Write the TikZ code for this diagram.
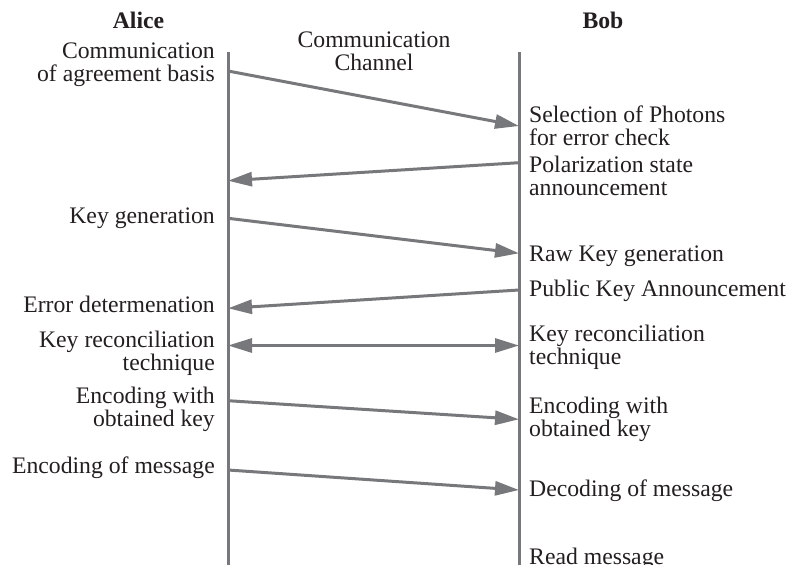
\documentclass[tikz,border=0pt]{standalone}
\usepackage{fontspec}
\setmainfont{Liberation Serif}
\usetikzlibrary{arrows.meta}
\definecolor{linegray}{HTML}{77787B}
\definecolor{textcol}{HTML}{231F20}
\begin{document}
\begin{tikzpicture}[x=1pt,y=-1pt,
  lbl/.style={inner sep=0pt, text=textcol, font=\fontsize{23.7}{23}\selectfont},
  lleft/.style={lbl, anchor=base east, align=right},
  lright/.style={lbl, anchor=base west, align=left},
  head/.style={lbl, anchor=base, align=center},
  life/.style={draw=linegray, line width=3pt},
  msg/.style={draw=linegray, line width=3pt, -{Triangle[length=24pt,width=14pt]}},
  msgboth/.style={draw=linegray, line width=3pt, {Triangle[length=24pt,width=14pt]}-{Triangle[length=24pt,width=14pt]}}]
\useasboundingbox (0,0) rectangle (790,565);
\clip (0,0) rectangle (790,565);
% lifelines
\coordinate (alicetop) at (228,52);
\coordinate (alicebot) at (228,575);
\coordinate (bobtop) at (519,52);
\coordinate (bobbot) at (519,575);
\draw[life] (alicetop) -- (alicebot);
\draw[life] (bobtop) -- (bobbot);
% headers (base anchor of multi-line nodes = last line)
\node[head, font=\fontsize{23.7}{23}\selectfont\bfseries] (alice) at (138.5,28.3) {Alice};
\node[head, font=\fontsize{23.7}{23}\selectfont\bfseries] (bob) at (603,28) {Bob};
\node[head] (chan) at (374,70) {Communication\\Channel};
% message end points
\coordinate (a1) at (228,71);    \coordinate (b1) at (519,126);
\coordinate (b2) at (519,162.7); \coordinate (a2) at (228,180.7);
\coordinate (a3) at (228,218.3); \coordinate (b3) at (519,253.3);
\coordinate (b4) at (519,290);   \coordinate (a4) at (228,308.3);
\coordinate (a5) at (228,345.5); \coordinate (b5) at (519,345.5);
\coordinate (a6) at (228,400.7); \coordinate (b6) at (519,419.3);
\coordinate (a7) at (228,470);   \coordinate (b7) at (519,490);
\draw[msg] (a1) -- (b1);
\draw[msg] (b2) -- (a2);
\draw[msg] (a3) -- (b3);
\draw[msg] (b4) -- (a4);
\draw[msgboth] (a5) -- (b5);
\draw[msg] (a6) -- (b6);
\draw[msg] (a7) -- (b7);
% Alice labels
\node[lleft] (l1) at (215,81.7) {Communication\\of agreement basis};
\node[lleft] (l2) at (215,223.3) {Key generation};
\node[lleft] (l3) at (215,312.7) {Error determenation};
\node[lleft] (l4) at (215,370) {Key reconciliation\\technique};
\node[lleft] (l5) at (215,426.5) {Encoding with\\obtained key};
\node[lleft] (l6) at (215,473) {Encoding of message};
% Bob labels
\node[lright] (r1) at (529,145) {Selection of Photons\\for error check};
\node[lright] (r2) at (529,195) {Polarization state\\announcement};
\node[lright] (r3) at (529,261.7) {Raw Key generation};
\node[lright] (r4) at (529,296.7) {Public Key Announcement};
\node[lright] (r5) at (529,364) {Key reconciliation\\technique};
\node[lright] (r6) at (529,436.7) {Encoding with\\obtained key};
\node[lright] (r7) at (529,496.7) {Decoding of message};
\node[lright] (r8) at (529,564.5) {Read message};
\end{tikzpicture}
\end{document}
